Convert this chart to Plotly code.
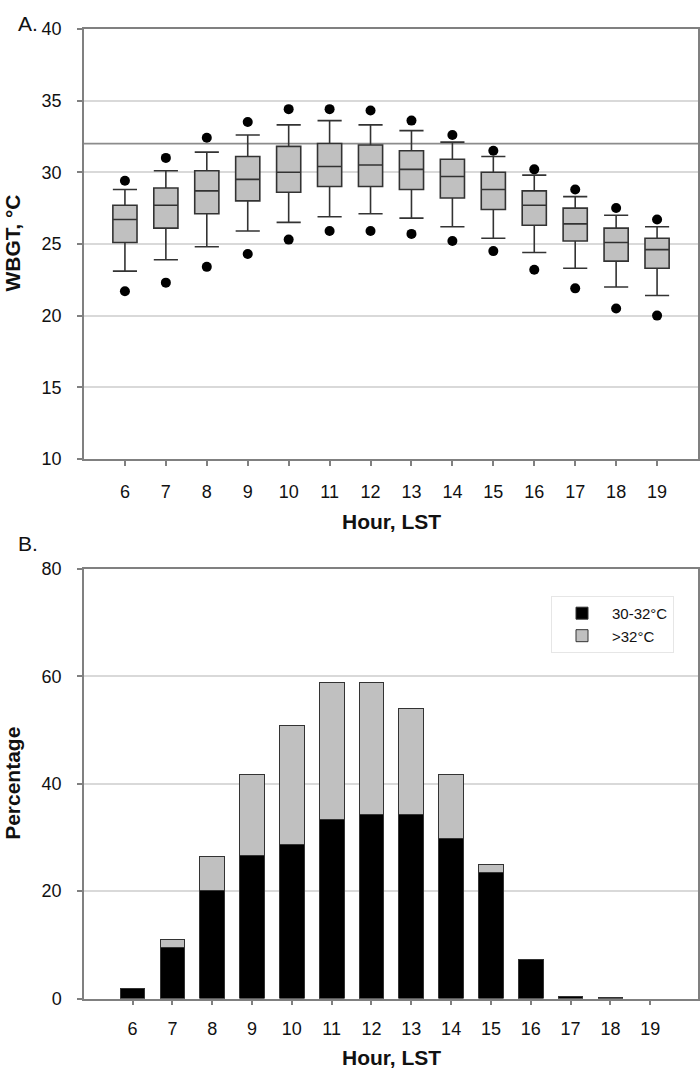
import plotly.graph_objects as go

# ---------------- data ----------------
hours = [6, 7, 8, 9, 10, 11, 12, 13, 14, 15, 16, 17, 18, 19]
tick_labels = [str(h) for h in hours]

# Panel A: WBGT box statistics (deg C)
upper_fence = [28.8, 30.1, 31.4, 32.6, 33.3, 33.6, 33.3, 32.9, 32.1, 31.1, 29.8, 28.3, 27.0, 26.2]
q3_vals     = [27.7, 28.9, 30.1, 31.1, 31.8, 32.0, 31.9, 31.5, 30.9, 30.0, 28.7, 27.5, 26.1, 25.4]
medians     = [26.7, 27.7, 28.7, 29.5, 30.0, 30.4, 30.5, 30.2, 29.7, 28.8, 27.7, 26.4, 25.1, 24.6]
q1_vals     = [25.1, 26.1, 27.1, 28.0, 28.6, 29.0, 29.0, 28.8, 28.2, 27.4, 26.3, 25.2, 23.8, 23.3]
lower_fence = [23.1, 23.9, 24.8, 25.9, 26.5, 26.9, 27.1, 26.8, 26.2, 25.4, 24.4, 23.3, 22.0, 21.4]
upper_outl  = [29.4, 31.0, 32.4, 33.5, 34.4, 34.4, 34.3, 33.6, 32.6, 31.5, 30.2, 28.8, 27.5, 26.7]
lower_outl  = [21.7, 22.3, 23.4, 24.3, 25.3, 25.9, 25.9, 25.7, 25.2, 24.5, 23.2, 21.9, 20.5, 20.0]
threshold = 32

# Panel B: percentage of observations
pct_30_32 = [1.8, 9.6, 20.1, 26.6, 28.6, 33.3, 34.3, 34.2, 29.8, 23.4, 7.2, 0.3, 0.2, 0.0]
pct_gt_32 = [0.0, 1.4, 6.3, 15.1, 22.3, 25.6, 24.6, 19.7, 11.9, 1.5, 0.0, 0.0, 0.0, 0.0]
series_names = ["30-32°C", ">32°C"]

# ---------------- figure ----------------
W, H = 700, 1078
FONT = "Liberation Sans, Arial, Helvetica, sans-serif"
AXC = "#808080"
GRID = "#d9d9d9"

def px_x(p):
    return p / W

def px_y(p):
    return 1 - p / H

def drawn(vals):
    # zero-height segments are left undrawn (no stray outline)
    return [v if v > 0 else None for v in vals]

fig = go.Figure()

fig.add_trace(go.Box(
    x=hours, q1=q1_vals, median=medians, q3=q3_vals,
    lowerfence=lower_fence, upperfence=upper_fence,
    width=0.59, whiskerwidth=1, boxpoints=False,
    fillcolor="#c0c0c0", line=dict(color="#333333", width=1.6),
    showlegend=False, xaxis="x", yaxis="y", hoverinfo="skip"))
fig.add_trace(go.Scatter(
    x=hours, y=upper_outl, mode="markers",
    marker=dict(color="black", size=10), showlegend=False,
    xaxis="x", yaxis="y"))
fig.add_trace(go.Scatter(
    x=hours, y=lower_outl, mode="markers",
    marker=dict(color="black", size=10), showlegend=False,
    xaxis="x", yaxis="y"))

fig.add_trace(go.Bar(
    x=hours, y=drawn(pct_30_32), name=series_names[0], width=0.62,
    marker=dict(color="#000000", line=dict(color="#333333", width=1)),
    xaxis="x2", yaxis="y2"))
fig.add_trace(go.Bar(
    x=hours, y=drawn(pct_gt_32), name=series_names[1], width=0.62,
    marker=dict(color="#c0c0c0", line=dict(color="#333333", width=1)),
    xaxis="x2", yaxis="y2"))

xdom = [px_x(84), px_x(698)]
common_axis = dict(showline=True, linecolor=AXC, linewidth=1.5, mirror=True,
                   ticks="outside", ticklen=5, tickcolor=AXC, tickwidth=1.5,
                   tickfont=dict(family=FONT, size=18, color="#111111"),
                   zeroline=False)

fig.update_layout(
    width=W, height=H,
    margin=dict(l=0, r=0, t=0, b=0),
    paper_bgcolor="white", plot_bgcolor="white",
    barmode="stack",
    font=dict(family=FONT, color="#111111"),
    xaxis=dict(domain=xdom, anchor="y", range=[5, 20], tickmode="array",
               tickvals=hours, ticktext=tick_labels, showgrid=False,
               ticklabelstandoff=11, **common_axis),
    yaxis=dict(domain=[px_y(457.5), px_y(19.2)], anchor="x", range=[10, 40],
               tickmode="linear", tick0=10, dtick=5, showgrid=True,
               gridcolor=GRID, gridwidth=1.5, ticklabelstandoff=12, **common_axis),
    xaxis2=dict(domain=xdom, anchor="y2", range=[4.78, 20.2], tickmode="array",
                tickvals=hours, ticktext=tick_labels, showgrid=False,
                ticklabelstandoff=8, **common_axis),
    yaxis2=dict(domain=[px_y(1007.3), px_y(569.3)], anchor="x2", range=[0, 80],
                tickmode="linear", tick0=0, dtick=20, showgrid=True,
                gridcolor=GRID, gridwidth=1.5, ticklabelstandoff=12, **common_axis),
    legend=dict(x=px_x(551), y=px_y(597), xanchor="left", yanchor="top",
                traceorder="normal", bordercolor="#e6e6e6", borderwidth=1,
                bgcolor="white", font=dict(family=FONT, size=15, color="#111111"),
                itemwidth=50),
    showlegend=True,
)

# threshold line at 32 deg C
fig.add_shape(type="line", xref="x domain", yref="y", x0=0, x1=1,
              y0=threshold, y1=threshold, line=dict(color="#8c8c8c", width=1.8),
              layer="below")

ann = [
    dict(text="A.", x=px_x(16), y=1.0, xanchor="left", yanchor="top",
         font=dict(size=21)),
    dict(text="B.", x=px_x(16), y=px_y(544), xanchor="left", yanchor="middle",
         font=dict(size=21)),
    dict(text="<b>WBGT, °C</b>", x=px_x(13), y=px_y(238), textangle=-90,
         xanchor="center", yanchor="middle", font=dict(size=21)),
    dict(text="<b>Percentage</b>", x=px_x(13), y=px_y(788.5), textangle=-90,
         xanchor="center", yanchor="middle", font=dict(size=21)),
    dict(text="<b>Hour, LST</b>", x=px_x(391), y=px_y(521.5),
         xanchor="center", yanchor="middle", font=dict(size=21)),
    dict(text="<b>Hour, LST</b>", x=px_x(391), y=px_y(1067),
         xanchor="center", yanchor="middle", font=dict(size=21)),
]
for a in ann:
    a.update(xref="paper", yref="paper", showarrow=False)
    a["font"].update(family=FONT, color="#111111")
    fig.add_annotation(**a)

page_fix = (
    "document.documentElement.style.margin='0';"
    "document.documentElement.style.padding='0';"
    "document.documentElement.style.overflow='hidden';"
    "document.body.style.margin='0';"
    "document.body.style.padding='0';"
    "document.body.style.overflow='hidden';"
    "var gd=document.getElementById('{plot_id}');"
    "gd.style.display='block';"
    "if(gd.parentElement){gd.parentElement.style.display='block';}"
)

fig.write_html("out.html", post_script=page_fix,
               config={"displayModeBar": False})
